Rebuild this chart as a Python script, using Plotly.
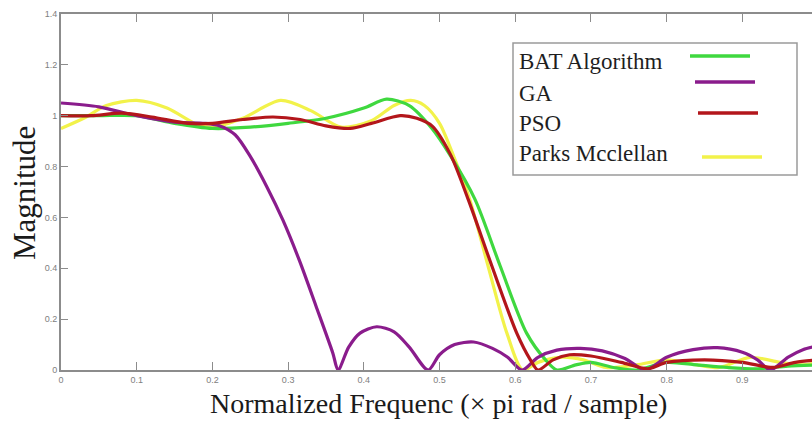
import plotly.graph_objects as go

# ---- data ----
ga_x = [0, 0.05, 0.1, 0.15, 0.19, 0.21, 0.23, 0.25, 0.272, 0.293, 0.315, 0.337, 0.359, 0.366,
        0.38, 0.395, 0.417, 0.44, 0.46, 0.485, 0.50, 0.52, 0.545, 0.57, 0.59, 0.609,
        0.63, 0.655, 0.686, 0.715, 0.745, 0.772, 0.80, 0.835, 0.867, 0.90, 0.92, 0.937,
        0.96, 0.98, 1.0]
ga_y = [1.05, 1.035, 1.0, 0.975, 0.97, 0.96, 0.925, 0.84, 0.72, 0.59, 0.43, 0.25, 0.067, 0.0,
        0.09, 0.145, 0.17, 0.15, 0.09, 0.0, 0.06, 0.10, 0.11, 0.085, 0.05, 0.0,
        0.05, 0.078, 0.085, 0.075, 0.045, 0.0, 0.05, 0.08, 0.088, 0.07, 0.04, 0.0,
        0.05, 0.08, 0.095]

pso_x = [0, 0.04, 0.08, 0.12, 0.168, 0.2, 0.24, 0.28, 0.316, 0.35, 0.382, 0.41, 0.448, 0.47,
         0.49, 0.514, 0.538, 0.569, 0.602, 0.62, 0.63, 0.65, 0.672, 0.70, 0.74, 0.775,
         0.80, 0.85, 0.90, 0.94, 0.97, 1.0]
pso_y = [1.0, 1.0, 1.01, 0.995, 0.97, 0.97, 0.985, 0.995, 0.985, 0.96, 0.95, 0.97, 1.0, 0.99,
         0.96, 0.85, 0.67, 0.41, 0.145, 0.04, 0.0, 0.04, 0.06, 0.055, 0.03, 0.005,
         0.03, 0.04, 0.03, 0.01, 0.03, 0.04]

bat_x = [0, 0.05, 0.1, 0.15, 0.2, 0.25, 0.3, 0.35, 0.4, 0.43, 0.46, 0.49, 0.515, 0.547,
         0.58, 0.615, 0.64, 0.655, 0.68, 0.70, 0.73, 0.76, 0.80, 0.84, 0.88, 0.92, 0.96, 1.0]
bat_y = [1.0, 1.0, 1.0, 0.97, 0.95, 0.955, 0.97, 0.99, 1.03, 1.065, 1.04, 0.95, 0.84, 0.67,
         0.41, 0.145, 0.04, 0.0, 0.02, 0.03, 0.01, 0.0, 0.03, 0.02, 0.01, 0.005, 0.015, 0.02]

pm_x = [0, 0.03, 0.06, 0.1, 0.14, 0.18, 0.2, 0.24, 0.29, 0.33, 0.37, 0.41, 0.44, 0.462, 0.48,
        0.50, 0.52, 0.54, 0.564, 0.589, 0.61, 0.63, 0.66, 0.69, 0.72, 0.76, 0.80, 0.84, 0.87,
        0.91, 0.95, 0.98, 1.0]
pm_y = [0.95, 0.99, 1.04, 1.06, 1.03, 0.965, 0.955, 0.99, 1.06, 1.02, 0.955, 0.98, 1.04, 1.06, 1.04,
        0.97, 0.83, 0.67, 0.41, 0.145, 0.0, 0.03, 0.05, 0.04, 0.01, 0.02, 0.04, 0.02, 0.01,
        0.05, 0.03, 0.02, 0.03]

series_names = ["BAT Algorithm", "GA", "PSO", "Parks Mcclellan"]
colors = {"BAT Algorithm": "#3fd83f", "GA": "#8a1c8c", "PSO": "#b3161b", "Parks Mcclellan": "#f2f24a"}

x_ticks = [0, 0.1, 0.2, 0.3, 0.4, 0.5, 0.6, 0.7, 0.8, 0.9]
y_ticks = [0, 0.2, 0.4, 0.6, 0.8, 1, 1.2, 1.4]

# ---- figure ----
W, H = 812, 423
L, R, T, B = 61, 0, 14, 53
PW, PH = W - L - R, H - T - B

def px(x):
    return (x - L) / PW

def py(y):
    return (H - B - y) / PH

fig = go.Figure()
draw_order = [("Parks Mcclellan", pm_x, pm_y), ("BAT Algorithm", bat_x, bat_y),
              ("GA", ga_x, ga_y), ("PSO", pso_x, pso_y)]
for name, xs, ys in draw_order:
    fig.add_trace(go.Scatter(x=xs, y=ys, mode="lines", name=name,
                             line=dict(color=colors[name], width=3.2, shape="spline", smoothing=0.8),
                             showlegend=False))

axis_col = "#8c8c8c"
tick_font = dict(family="Liberation Sans, Arial", size=9, color="#808080")
fig.update_layout(
    width=W, height=H,
    margin=dict(l=L, r=R, t=T, b=B, pad=0),
    paper_bgcolor="white", plot_bgcolor="white",
    xaxis=dict(range=[0, 0.992], tickvals=x_ticks, ticktext=[f"{v:g}" for v in x_ticks],
               showgrid=False, zeroline=False, showline=True, linecolor=axis_col, linewidth=2,
               mirror="ticks", ticks="inside", ticklen=8, tickcolor=axis_col, tickwidth=1,
               tickfont=tick_font),
    yaxis=dict(range=[0, 1.4], tickvals=y_ticks, ticktext=[f"{v:g}" for v in y_ticks],
               showgrid=False, zeroline=False, showline=True, linecolor=axis_col, linewidth=2,
               mirror=False, ticks="inside", ticklen=7, tickcolor=axis_col, tickwidth=1,
               tickfont=tick_font),
)

serif = "Liberation Serif, Times New Roman, serif"
# axis titles
fig.add_annotation(text="Normalized Frequenc (× pi rad / sample)", xref="paper", yref="paper",
                   x=px(438), y=py(403), xanchor="center", yanchor="middle", showarrow=False,
                   font=dict(family=serif, size=28, color="#1a1a1a"))
fig.add_annotation(text="Magnitude", xref="paper", yref="paper", textangle=-90,
                   x=px(24), y=py(193), xanchor="center", yanchor="middle", showarrow=False,
                   font=dict(family=serif, size=31, color="#1a1a1a"))

# legend box (text then line sample, as in the reference)
fig.add_shape(type="rect", xref="paper", yref="paper", x0=px(513), x1=px(797), y0=py(175), y1=py(43),
              line=dict(color="#9a9a9a", width=1.5), fillcolor="white", layer="above")
leg_text_y = [61, 93, 124, 153]
leg_line = [(690, 750, 56), (695, 755, 82), (698, 758, 113), (702, 762, 157)]
for name, ty, (lx0, lx1, ly) in zip(series_names, leg_text_y, leg_line):
    fig.add_annotation(text=name, xref="paper", yref="paper", x=px(517), y=py(ty),
                       xanchor="left", yanchor="middle", showarrow=False,
                       font=dict(family=serif, size=23, color="#1e1e1e"))
    fig.add_shape(type="line", xref="paper", yref="paper", x0=px(lx0), x1=px(lx1), y0=py(ly), y1=py(ly),
                  line=dict(color=colors[name], width=3.5), layer="above")

fig.write_html("out.html")
